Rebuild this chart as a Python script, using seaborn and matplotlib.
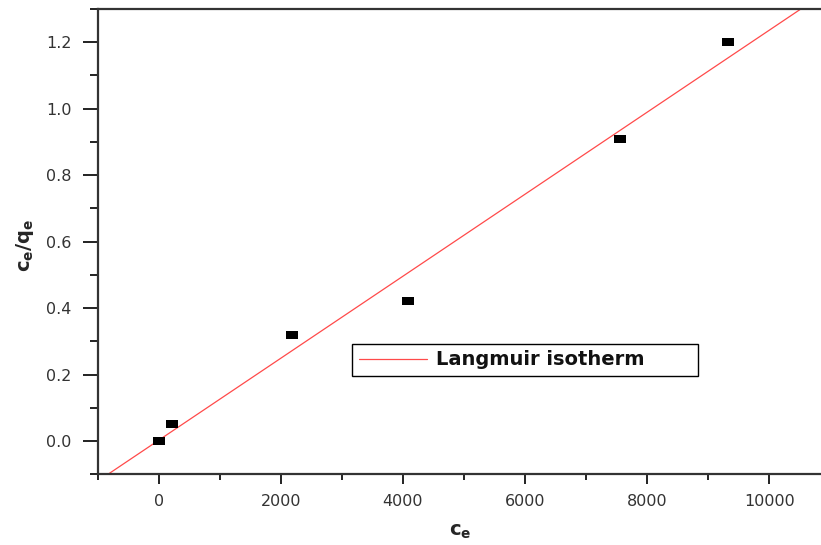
import numpy as np
import pandas as pd
import matplotlib
matplotlib.use("Agg")
import matplotlib.pyplot as plt
from matplotlib.ticker import MultipleLocator
import seaborn as sns

# Equilibrium concentration and ratio c_e/q_e
ce = [0, 221, 2187, 4087, 7559, 9328]
ce_qe = [0.0, 0.05, 0.32, 0.42, 0.91, 1.20]
x_ticks = [0, 2000, 4000, 6000, 8000, 10000]
y_ticks = [0.0, 0.2, 0.4, 0.6, 0.8, 1.0, 1.2]
x_limits = [-1000, 11000]
y_limits = [-0.1, 1.3]
fit_label = "Langmuir isotherm"

df = pd.DataFrame({"ce": ce, "ce_qe": ce_qe})

sns.set_theme(style="ticks")
plt.rcParams["font.family"] = ["DejaVu Sans"]
plt.rcParams["mathtext.fontset"] = "dejavusans"

fig = plt.figure(figsize=(8.21, 5.45), dpi=100)
W, H = 821, 545
left_px, right_px, top_px, bottom_px = 97.7, 830.3, 9.0, 474.3
ax = fig.add_axes([left_px / W, (H - bottom_px) / H,
                   (right_px - left_px) / W, (bottom_px - top_px) / H])

ax.set_xlim(*x_limits)
ax.set_ylim(*y_limits)

# Linear Langmuir fit across the full x range
sns.regplot(data=df, x="ce", y="ce_qe", ax=ax, scatter=False, ci=None,
            truncate=False, color="#ff4a4a", line_kws={"lw": 0.9})
fit_line = ax.lines[-1]

rect = [(-1, -0.75), (1, -0.75), (1, 0.75), (-1, 0.75), (-1, -0.75)]
sns.scatterplot(data=df, x="ce", y="ce_qe", ax=ax, marker=rect, s=70,
                color="black", edgecolor="black", linewidth=0, zorder=5)

ax.set_xlim(*x_limits)
ax.set_ylim(*y_limits)

ax.set_xticks(x_ticks)
ax.set_yticks(y_ticks)
ax.set_xticklabels([f"{v:d}" for v in x_ticks])
ax.set_yticklabels([f"{v:.1f}" for v in y_ticks])
ax.xaxis.set_minor_locator(MultipleLocator(1000))
ax.yaxis.set_minor_locator(MultipleLocator(0.1))

ax.tick_params(axis="both", which="both", direction="out", color="#222222",
               labelcolor="#333333", labelsize=11.5, width=1.4)
ax.tick_params(axis="y", which="major", length=11, pad=8)
ax.tick_params(axis="y", which="minor", length=6)
ax.tick_params(axis="x", which="major", length=7, pad=7)
ax.tick_params(axis="x", which="minor", length=4.5)

for side in ["left", "bottom", "top", "right"]:
    ax.spines[side].set_visible(True)
    ax.spines[side].set_linewidth(1.6)
    ax.spines[side].set_color("#333333")

ax.set_xlabel(r"$\mathbf{c_e}$", fontsize=14)
ax.set_ylabel(r"$\mathbf{c_e/q_e}$", fontsize=14)
ax.xaxis.set_label_coords(0.4945, -0.103)
ax.yaxis.set_label_coords(-0.084, 0.493)

leg = ax.legend(handles=[fit_line], labels=[fit_label],
                loc="center left", bbox_to_anchor=(0.347, 0.2113, 0.4724, 0.069),
                mode="expand", frameon=True, fancybox=False, framealpha=1,
                edgecolor="black", borderpad=0.35, handlelength=3.5,
                handletextpad=0.5, borderaxespad=0,
                prop={"weight": "bold", "size": 14})
leg.get_frame().set_linewidth(1.0)
for t in leg.get_texts():
    t.set_color("#111111")

fig.savefig("out.png", dpi=100)
